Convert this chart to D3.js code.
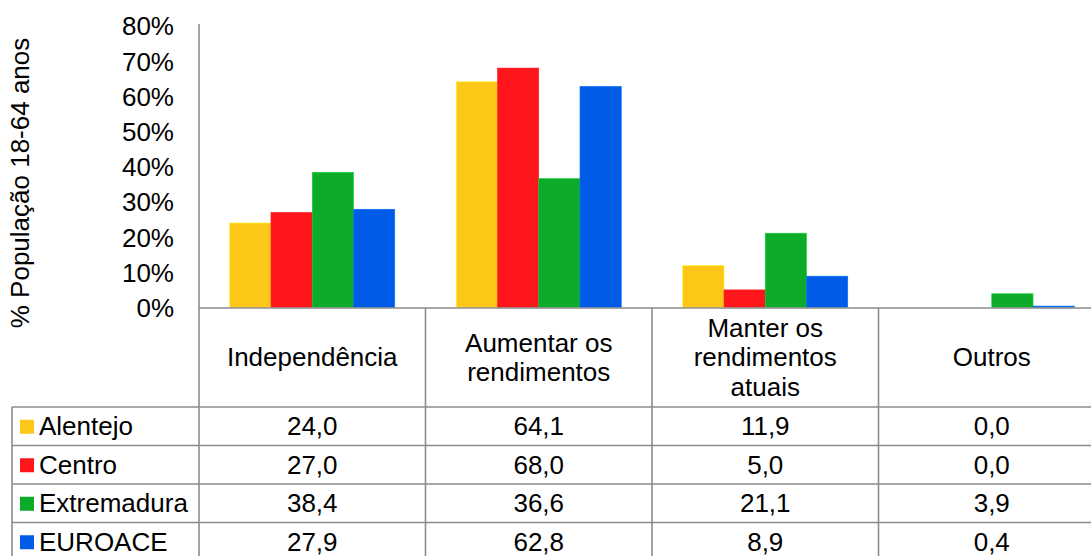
<!DOCTYPE html>
<html><head><meta charset="utf-8">
<script src="https://cdn.jsdelivr.net/npm/d3@7"></script>
<style>body{margin:0;background:#fff}svg{display:block;font-family:"Liberation Sans",Arial,sans-serif}</style>
</head><body><svg id="c" width="1091" height="556"></svg>
<script>
const categories = [["Independência"], ["Aumentar os", "rendimentos"], ["Manter os", "rendimentos", "atuais"], ["Outros"]];
const seriesNames = ["Alentejo", "Centro", "Extremadura", "EUROACE"];
const colors = ["#FDC718", "#FF161D", "#0DAB2A", "#005CE6"];
const alentejo = [24.0, 64.1, 11.9, 0.0];
const centro = [27.0, 68.0, 5.0, 0.0];
const extremadura = [38.4, 36.6, 21.1, 3.9];
const euroace = [27.9, 62.8, 8.9, 0.4];
const yTicks = [0, 10, 20, 30, 40, 50, 60, 70, 80];
const yLabel = "% População 18-64 anos";

const values = [alentejo, centro, extremadura, euroace];
const svg = d3.select("#c");
const x0 = 199, xEnd = 1105, W = 1091, yTop = 25.8, yBase = 307.5;
const tableLeft = 12, headerBottom = 407, rowH = 38.5;
const grid = "#8c8c8c";
const FS = 26;

const x = d3.scaleBand().domain(d3.range(categories.length)).range([x0, xEnd]).paddingInner(0).paddingOuter(0);
const xs = d3.scaleBand().domain(d3.range(seriesNames.length)).range([0, x.bandwidth()]).paddingInner(0).paddingOuter(0.745);
const y = d3.scaleLinear().domain([0, 80]).range([yBase, yTop]);

// bars
seriesNames.forEach((s, si) => {
  svg.append("g").selectAll("rect").data(values[si]).join("rect")
    .attr("x", (d, i) => x(i) + xs(si))
    .attr("width", xs.bandwidth())
    .attr("y", d => y(d))
    .attr("height", d => yBase - y(d))
    .attr("fill", colors[si])
    .attr("stroke", d3.color(colors[si]).brighter(0.6))
    .attr("stroke-width", d => d > 0 ? 0.6 : 0);
});

// y axis
const yAxis = d3.axisLeft(y).tickValues(yTicks).tickFormat(d => d + "%").tickSize(0).tickPadding(25);
const ga = svg.append("g").attr("transform", `translate(${x0},0)`).call(yAxis);
ga.select(".domain").remove();
ga.selectAll("text").attr("font-size", FS).attr("fill", "#000").attr("font-family", "Liberation Sans, Arial, sans-serif").attr("dy", "0.35em");
svg.append("line").attr("x1", x0).attr("x2", x0).attr("y1", 24).attr("y2", 556).attr("stroke", grid).attr("stroke-width", 1.6);

svg.append("text").attr("transform", "translate(29,183) rotate(-90)").attr("text-anchor", "middle")
  .attr("font-size", FS).attr("fill", "#000").text(yLabel);

// table lines
svg.append("line").attr("x1", x0).attr("x2", W).attr("y1", yBase + 0.5).attr("y2", yBase + 0.5).attr("stroke", grid).attr("stroke-width", 1.6);
for (let r = 0; r < 4; r++) {
  const yy = headerBottom + r * rowH;
  svg.append("line").attr("x1", tableLeft).attr("x2", W).attr("y1", yy).attr("y2", yy).attr("stroke", grid).attr("stroke-width", 1.6);
}
svg.append("line").attr("x1", tableLeft).attr("x2", tableLeft).attr("y1", headerBottom).attr("y2", 556).attr("stroke", grid).attr("stroke-width", 1.6);
categories.forEach((c, i) => {
  if (i > 0) svg.append("line").attr("x1", x(i)).attr("x2", x(i)).attr("y1", yBase).attr("y2", 556).attr("stroke", grid).attr("stroke-width", 1.6);
});

// header labels
const hMid = (yBase + headerBottom) / 2, lh = 29.5;
const colCenter = i => x(i) + x.bandwidth() / 2;
categories.forEach((lines, i) => {
  const t = svg.append("text").attr("text-anchor", "middle").attr("font-size", FS).attr("fill", "#000");
  lines.forEach((ln, k) => {
    t.append("tspan").attr("x", colCenter(i))
      .attr("y", hMid + (k - (lines.length - 1) / 2) * lh).attr("dy", "0.35em").text(ln);
  });
});

// rows
const fmt = v => v.toFixed(1).replace(".", ",");
seriesNames.forEach((s, si) => {
  const yc = headerBottom + si * rowH + rowH / 2;
  svg.append("rect").attr("x", 20).attr("y", yc - 6.5).attr("width", 14).attr("height", 14).attr("fill", colors[si]);
  svg.append("text").attr("x", 39).attr("y", yc).attr("dy", "0.35em").attr("font-size", FS).attr("fill", "#000").text(s);
  values[si].forEach((v, i) => {
    svg.append("text").attr("x", colCenter(i)).attr("y", yc).attr("dy", "0.35em")
      .attr("text-anchor", "middle").attr("font-size", FS).attr("fill", "#000").text(fmt(v));
  });
});
</script></body></html>
